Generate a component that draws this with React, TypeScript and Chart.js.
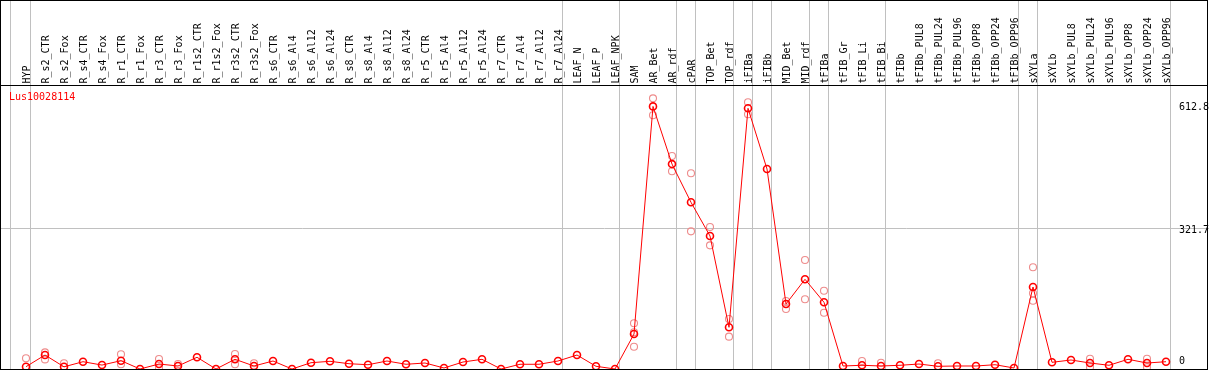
import React, { useEffect, useRef } from "react";
import { Chart, registerables } from "chart.js";

Chart.register(...registerables);

const categories = [
  "HYP", "R_s2_CTR", "R_s2_Fox", "R_s4_CTR", "R_s4_Fox", "R_r1_CTR", "R_r1_Fox", "R_r3_CTR", "R_r3_Fox",
  "R_r1s2_CTR", "R_r1s2_Fox", "R_r3s2_CTR", "R_r3s2_Fox", "R_s6_CTR", "R_s6_Al4", "R_s6_Al12", "R_s6_Al24",
  "R_s8_CTR", "R_s8_Al4", "R_s8_Al12", "R_s8_Al24", "R_r5_CTR", "R_r5_Al4", "R_r5_Al12", "R_r5_Al24",
  "R_r7_CTR", "R_r7_Al4", "R_r7_Al12", "R_r7_Al24", "LEAF_N", "LEAF_P", "LEAF_NPK", "SAM", "AR_Bet", "AR_rdf",
  "cPAR", "TOP_Bet", "TOP_rdf", "iFIBa", "iFIBb", "MID_Bet", "MID_rdf", "tFIBa", "tFIB_Gr", "tFIB_Li", "tFIB_Bi",
  "tFIBb", "tFIBb_PUL8", "tFIBb_PUL24", "tFIBb_PUL96", "tFIBb_OPP8", "tFIBb_OPP24", "tFIBb_OPP96", "sXYLa",
  "sXYLb", "sXYLb_PUL8", "sXYLb_PUL24", "sXYLb_PUL96", "sXYLb_OPP8", "sXYLb_OPP24", "sXYLb_OPP96",
];

const meanValues = [
  5.3, 32, 5, 16.7, 9, 19, 0, 11.4, 6.9, 26.8, 0, 22.2, 6.9, 18.3, 0, 14.4, 17.6, 12.1, 9.8, 18.3,
  10.8, 13.7, 2.3, 16, 22.2, 0, 10.8, 10.8, 18.3, 32, 6.2, 0, 80, 601, 469, 381.5, 304.4, 95.4, 596.7, 457.7,
  148.8, 205.3, 152.7, 6.9, 8.5, 6.9, 8.5, 11.4, 6.2, 6.9, 6.9, 9.8, 2.3, 187.7, 15.3, 20.6, 13.7, 8.5, 22.2,
  13.7, 16.7,
];

const repIndex = [
  0, 1, 1, 2, 5, 5, 7, 7, 8, 11, 11, 12, 32, 32, 32, 33, 33, 34, 34, 35, 35, 36, 36, 37, 37, 38, 38,
  40, 40, 41, 41, 42, 42, 44, 45, 48, 53, 53, 53, 56, 56, 59, 59,
];
const repValue = [
  24.5, 38, 22, 13, 33.6, 10.8, 22.9, 1.6, 11.4, 34.3, 10.8, 13, 104.6, 84, 51, 619.5, 580.6, 487.5, 452.5,
  448, 315, 325, 283, 114.4, 74, 610.4, 583, 155.6, 137.3, 249.5, 159.5, 179.2, 128.9, 18.3, 14.4, 13,
  232.8, 173.3, 156.3, 23.6, 3.9, 23.6, 3.9,
];

const separators = [-0.8, 0.25, 28.25, 31.25, 34.25, 35.25, 37.25, 38.25, 39.25, 41.25, 42.25, 45.25, 52.25, 53.25, 60.25];
const yLabelValues = [612.8, 321.7, 0];
const yLabelTexts = ["612.8", "321.7", "0"];
const yGridValues = [321.7];
const geneName = "Lus10028114";

const FONT = '10px "DejaVu Sans Mono", "Liberation Mono", monospace';

const decorPlugin = {
  id: "decor",
  beforeDatasetsDraw(chart: any) {
    const { ctx, scales } = chart;
    const x = scales.x;
    const y = scales.y;
    const W = chart.width;
    const H = chart.height;
    ctx.save();
    ctx.strokeStyle = "#c0c0c0";
    ctx.lineWidth = 1;
    separators.forEach((s) => {
      const px = Math.floor(x.getPixelForValue(s)) + 0.5;
      ctx.beginPath();
      ctx.moveTo(px, 0);
      ctx.lineTo(px, H);
      ctx.stroke();
    });
    yGridValues.forEach((v) => {
      const py = Math.floor(y.getPixelForValue(v)) + 0.5;
      ctx.beginPath();
      ctx.moveTo(0, py);
      ctx.lineTo(W, py);
      ctx.stroke();
    });
    ctx.fillStyle = "#000";
    ctx.font = FONT;
    categories.forEach((c, i) => {
      const px = x.getPixelForValue(i);
      ctx.save();
      ctx.translate(px + 3.5, 83.5);
      ctx.rotate(-Math.PI / 2);
      ctx.textAlign = "left";
      ctx.textBaseline = "alphabetic";
      ctx.fillText(c, 0, 0);
      ctx.restore();
    });
    const offs = [6, 2, -7.5];
    ctx.textAlign = "left";
    ctx.textBaseline = "middle";
    yLabelValues.forEach((v, i) => {
      ctx.fillText(yLabelTexts[i], 1179, y.getPixelForValue(v) + offs[i]);
    });
    ctx.fillStyle = "#ff0000";
    ctx.fillText(geneName, 9, 97.5);
    ctx.restore();
  },
  afterDraw(chart: any) {
    const { ctx } = chart;
    ctx.save();
    ctx.strokeStyle = "#000";
    ctx.lineWidth = 1;
    ctx.beginPath();
    ctx.moveTo(0, 0.5); ctx.lineTo(1208, 0.5);
    ctx.moveTo(0, 85.5); ctx.lineTo(1208, 85.5);
    ctx.moveTo(0, 369.5); ctx.lineTo(1208, 369.5);
    ctx.moveTo(0.5, 0); ctx.lineTo(0.5, 370);
    ctx.moveTo(1207.5, 0); ctx.lineTo(1207.5, 370);
    ctx.stroke();
    ctx.restore();
  },
};

export default function App() {
  const ref = useRef<HTMLCanvasElement | null>(null);
  useEffect(() => {
    if (!ref.current) return;
    const meanData = meanValues.map((v, i) => ({ x: i, y: v }));
    const repData = repIndex.map((i, k) => ({ x: i, y: repValue[k] }));
    const chart = new Chart(ref.current, {
      type: "line",
      data: {
        datasets: [
          {
            label: geneName,
            data: meanData,
            borderColor: "#ff0000",
            borderWidth: 1,
            pointRadius: 3.5,
            pointBorderWidth: 1.6,
            pointBorderColor: "#ff0000",
            pointBackgroundColor: "rgba(0,0,0,0)",
            tension: 0,
            clip: false as any,
          },
          {
            label: "replicates",
            data: repData,
            showLine: false,
            pointRadius: 3.5,
            pointBorderWidth: 1.1,
            pointBorderColor: "rgb(238,140,140)",
            pointBackgroundColor: "rgba(0,0,0,0)",
            clip: false as any,
          },
        ],
      },
      options: {
        animation: false,
        responsive: false,
        devicePixelRatio: 1,
        layout: { autoPadding: false, padding: { top: 85, bottom: 1, left: 0, right: 0 } },
        plugins: { legend: { display: false }, tooltip: { enabled: false } },
        scales: {
          x: { type: "linear", min: -26 / 19, max: 1183 / 19, display: false },
          y: { type: "linear", min: 0, max: 650, display: false },
        },
      },
      plugins: [decorPlugin],
    });
    return () => chart.destroy();
  }, []);
  return (
    <div style={{ position: "fixed", left: 0, top: 0, width: 1209, height: 370, background: "#fff" }}>
      <canvas ref={ref} width={1209} height={370} style={{ display: "block" }} />
    </div>
  );
}
